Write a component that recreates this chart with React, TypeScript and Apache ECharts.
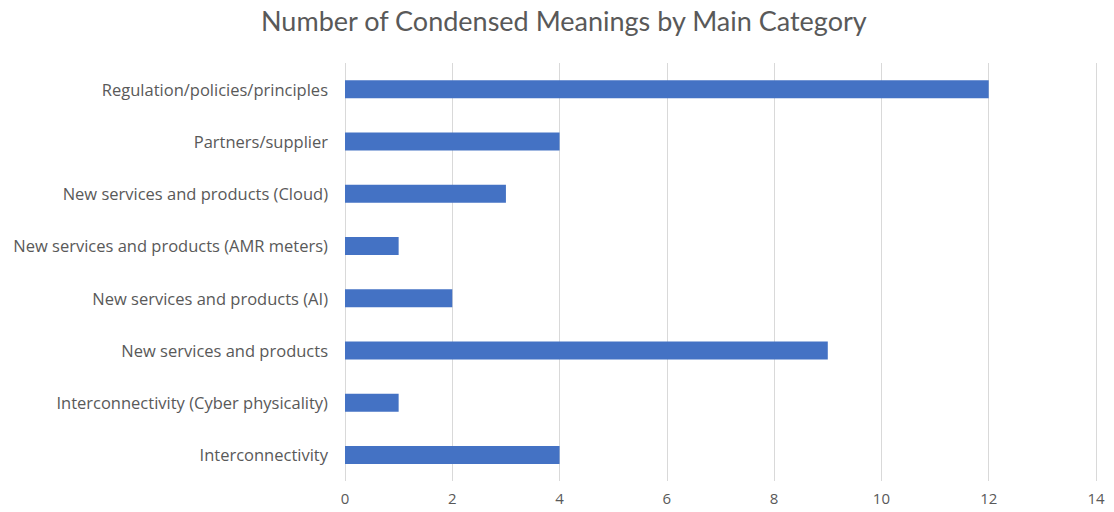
import React, { useEffect, useRef } from "react";
import * as echarts from "echarts";

const categories = [
  "Interconnectivity",
  "Interconnectivity (Cyber physicality)",
  "New services and products",
  "New services and products (AI)",
  "New services and products (AMR meters)",
  "New services and products (Cloud)",
  "Partners/supplier",
  "Regulation/policies/principles",
];
const values = [4, 1, 9, 2, 1, 3, 4, 12];
const title = "Number of Condensed Meanings by Main Category";

export default function App() {
  const ref = useRef<HTMLDivElement>(null);
  useEffect(() => {
    const chart = echarts.init(ref.current!, null, { renderer: "svg" });
    chart.setOption({
      animation: false,
      backgroundColor: "#ffffff",
      title: {
        text: title,
        left: 256,
        top: 2,
        textStyle: { fontFamily: "Lato", fontSize: 27, fontWeight: "normal", color: "#595959" },
      },
      grid: { left: 345, right: 18, top: 63, bottom: 31, containLabel: false },
      xAxis: {
        type: "value",
        min: 0,
        max: 14,
        interval: 2,
        axisLine: { show: false },
        axisTick: { show: false },
        splitLine: { show: true, lineStyle: { color: "#d9d9d9", width: 1 } },
        axisLabel: { color: "#595959", fontFamily: "Open Sans", fontSize: 15, margin: 9 },
      },
      yAxis: {
        type: "category",
        data: categories,
        axisLine: { show: false },
        axisTick: { show: false },
        axisLabel: { color: "#595959", fontFamily: "Open Sans", fontSize: 16.5, margin: 17 },
      },
      series: [
        {
          type: "bar",
          data: values,
          barWidth: 18,
          itemStyle: { color: "#4472c4" },
        },
      ],
    });
    return () => chart.dispose();
  }, []);
  return (
    <div
      ref={ref}
      style={{ position: "fixed", left: 0, top: 0, width: 1114, height: 512 }}
    />
  );
}
